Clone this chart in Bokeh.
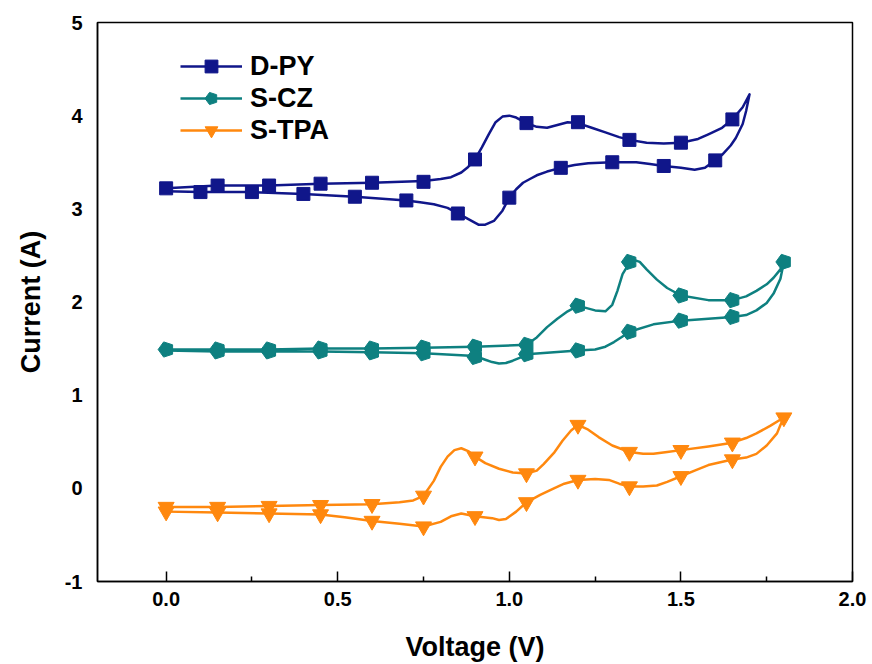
import math
from bokeh.plotting import figure
from bokeh.models import Range1d, FixedTicker, NumeralTickFormatter, Legend, LegendItem
from bokeh.embed import file_html
from bokeh.resources import INLINE

# ---------------- data ----------------
series_names = ["D-PY", "S-CZ", "S-TPA"]

# D-PY: traced curve (forward scan, then reverse scan)
dpy_curve_v = [0.00, 0.15, 0.30, 0.45, 0.60, 0.75, 0.80, 0.83, 0.86, 0.88, 0.90, 0.92, 0.94, 0.96, 0.98,
               1.00, 1.02, 1.05, 1.08, 1.11, 1.14, 1.17, 1.20, 1.24, 1.28, 1.32, 1.35, 1.40, 1.45,
               1.50, 1.55, 1.58, 1.62, 1.65, 1.68, 1.70,
               1.69, 1.68, 1.66, 1.645, 1.62, 1.60, 1.57, 1.54, 1.50, 1.45, 1.41, 1.37, 1.30, 1.23,
               1.19, 1.15, 1.11, 1.08, 1.06, 1.04, 1.02, 1.00, 0.98, 0.955, 0.93, 0.91, 0.89, 0.87,
               0.85, 0.82, 0.78, 0.74, 0.70, 0.55, 0.40, 0.25, 0.10, 0.00]
dpy_curve_i = [3.22, 3.25, 3.25, 3.27, 3.28, 3.30, 3.32, 3.34, 3.39, 3.45, 3.53, 3.66, 3.80, 3.93, 3.99,
               4.00, 3.98, 3.92, 3.88, 3.87, 3.90, 3.93, 3.92, 3.87, 3.82, 3.77, 3.74, 3.71, 3.70,
               3.71, 3.75, 3.80, 3.87, 3.96, 4.09, 4.23,
               4.05, 3.91, 3.76, 3.68, 3.58, 3.52, 3.44, 3.42, 3.44, 3.46, 3.48, 3.50, 3.50, 3.49,
               3.47, 3.44, 3.40, 3.36, 3.32, 3.28, 3.21, 3.12, 2.98, 2.87, 2.83, 2.83, 2.87, 2.91,
               2.95, 3.01, 3.05, 3.07, 3.09, 3.13, 3.16, 3.18, 3.18, 3.19]
dpy_mark_v = [0.00, 0.15, 0.30, 0.45, 0.60, 0.75, 0.90, 1.05, 1.20, 1.35, 1.50, 1.65,
              1.60, 1.45, 1.30, 1.15, 1.00, 0.85, 0.70, 0.55, 0.40, 0.25, 0.10]
dpy_mark_i = [3.22, 3.25, 3.25, 3.27, 3.28, 3.29, 3.53, 3.92, 3.93, 3.74, 3.71, 3.96,
              3.52, 3.46, 3.50, 3.44, 3.12, 2.95, 3.09, 3.13, 3.16, 3.18, 3.18]

# S-CZ
scz_curve_v = [0.00, 0.15, 0.30, 0.45, 0.60, 0.75, 0.90, 1.05, 1.08, 1.11, 1.14, 1.17, 1.20, 1.22,
               1.25, 1.28, 1.30, 1.315, 1.33, 1.35, 1.365, 1.38, 1.40, 1.43, 1.46, 1.50, 1.58, 1.65,
               1.69, 1.72, 1.75, 1.77, 1.79, 1.80,
               1.79, 1.77, 1.75, 1.72, 1.69, 1.65, 1.58, 1.50, 1.42, 1.35, 1.33, 1.305, 1.28, 1.25,
               1.20, 1.13, 1.05, 1.03, 1.01, 0.99, 0.97, 0.95, 0.93, 0.90, 0.75, 0.60, 0.45, 0.30,
               0.15, 0.00]
scz_curve_i = [1.49, 1.49, 1.49, 1.50, 1.50, 1.51, 1.52, 1.54, 1.62, 1.73, 1.82, 1.90, 1.96, 1.94,
               1.91, 1.90, 1.97, 2.12, 2.30, 2.42, 2.45, 2.43, 2.35, 2.24, 2.15, 2.07, 2.02, 2.02,
               2.06, 2.12, 2.19, 2.26, 2.35, 2.43,
               2.25, 2.09, 1.99, 1.91, 1.86, 1.84, 1.82, 1.80, 1.76, 1.68, 1.63, 1.57, 1.52, 1.49,
               1.48, 1.46, 1.44, 1.40, 1.37, 1.345, 1.34, 1.355, 1.38, 1.42, 1.45, 1.46, 1.47, 1.47,
               1.47, 1.48]
scz_mark_v = [0.00, 0.15, 0.30, 0.45, 0.60, 0.75, 0.90, 1.05, 1.20, 1.35, 1.50, 1.65, 1.80,
              1.65, 1.50, 1.35, 1.20, 1.05, 0.90, 0.75, 0.60, 0.45, 0.30, 0.15]
scz_mark_i = [1.49, 1.49, 1.49, 1.50, 1.50, 1.51, 1.52, 1.54, 1.96, 2.43, 2.07, 2.02, 2.43,
              1.84, 1.80, 1.68, 1.48, 1.44, 1.41, 1.45, 1.46, 1.47, 1.47, 1.47]

# S-TPA
stpa_curve_v = [0.00, 0.15, 0.30, 0.45, 0.60, 0.68, 0.72, 0.75, 0.78, 0.80, 0.82, 0.84, 0.86, 0.88,
                0.90, 0.93, 0.97, 1.01, 1.05, 1.08, 1.10, 1.13, 1.155, 1.18, 1.20, 1.23, 1.26, 1.30,
                1.35, 1.39, 1.42, 1.46, 1.50, 1.58, 1.65, 1.69, 1.72, 1.76, 1.80,
                1.79, 1.78, 1.75, 1.72, 1.69, 1.65, 1.58, 1.54, 1.50, 1.46, 1.43, 1.39, 1.35, 1.32,
                1.29, 1.25, 1.20, 1.16, 1.13, 1.09, 1.05, 1.02, 0.99, 0.97, 0.95, 0.90, 0.86, 0.83,
                0.80, 0.75, 0.68, 0.60, 0.52, 0.45, 0.30, 0.15, 0.00]
stpa_curve_i = [-0.20, -0.20, -0.19, -0.18, -0.17, -0.15, -0.13, -0.08, 0.08, 0.23, 0.34, 0.41, 0.43, 0.40,
                0.34, 0.27, 0.21, 0.17, 0.16, 0.19, 0.26, 0.38, 0.51, 0.62, 0.68, 0.63, 0.55, 0.46,
                0.39, 0.37, 0.37, 0.39, 0.41, 0.45, 0.49, 0.54, 0.59, 0.67, 0.76,
                0.68, 0.59, 0.46, 0.37, 0.33, 0.31, 0.25, 0.19, 0.13, 0.07, 0.03, 0.02, 0.02, 0.05,
                0.09, 0.10, 0.09, 0.05, 0.00, -0.07, -0.15, -0.25, -0.33, -0.34, -0.32, -0.30, -0.27, -0.30,
                -0.36, -0.41, -0.38, -0.35, -0.31, -0.28, -0.27, -0.26, -0.25]
stpa_mark_v = [0.00, 0.15, 0.30, 0.45, 0.60, 0.75, 0.90, 1.05, 1.20, 1.35, 1.50, 1.65, 1.80,
               1.65, 1.50, 1.35, 1.20, 1.05, 0.90, 0.75, 0.60, 0.45, 0.30, 0.15, 0.00]
stpa_mark_i = [-0.20, -0.20, -0.19, -0.18, -0.17, -0.08, 0.34, 0.16, 0.68, 0.39, 0.41, 0.49, 0.76,
               0.31, 0.13, 0.02, 0.09, -0.15, -0.30, -0.41, -0.35, -0.28, -0.27, -0.26, -0.25]

x_ticks = [0.0, 0.5, 1.0, 1.5, 2.0]
x_minor = [0.25, 0.75, 1.25, 1.75]
y_ticks = [-1, 0, 1, 2, 3, 4, 5]

# ---------------- styling ----------------
NAVY = "#10168A"
TEAL = "#0E8080"
ORANGE = "#FF880E"
FONT = "Liberation Sans"

p = figure(width=872, height=664, output_backend="svg", toolbar_location=None,
           x_range=Range1d(-0.2, 2.0), y_range=Range1d(-1, 5),
           min_border_left=97, min_border_right=20, min_border_top=22, min_border_bottom=82)
p.xgrid.visible = False
p.ygrid.visible = False
p.outline_line_color = "black"
p.outline_line_width = 1.5
p.background_fill_color = "white"
p.border_fill_color = "white"

lw = 2.5
r1l = p.line(dpy_curve_v, dpy_curve_i, line_color=NAVY, line_width=lw, line_join="round")
r1m = p.scatter(dpy_mark_v, dpy_mark_i, marker="square", size=13, fill_color=NAVY, line_color=NAVY)

r2l = p.line(scz_curve_v, scz_curve_i, line_color=TEAL, line_width=lw, line_join="round")
try:
    r2m = p.ngon(scz_mark_v, scz_mark_i, radius=8, radius_units="screen", n=5, angle=math.pi / 2,
                 fill_color=TEAL, line_color=TEAL)
except Exception:
    r2m = p.scatter(scz_mark_v, scz_mark_i, marker="hex", size=15, fill_color=TEAL, line_color=TEAL)

r3l = p.line(stpa_curve_v, stpa_curve_i, line_color=ORANGE, line_width=lw, line_join="round")
r3m = p.scatter(stpa_mark_v, stpa_mark_i, marker="inverted_triangle", size=16, fill_color=ORANGE, line_color=ORANGE)

legend = Legend(items=[LegendItem(label=series_names[0], renderers=[r1l, r1m]),
                       LegendItem(label=series_names[1], renderers=[r2l, r2m]),
                       LegendItem(label=series_names[2], renderers=[r3l, r3m])],
                location=(83, 435), orientation="vertical")
legend.padding = 0
legend.margin = 0
legend.spacing = 0
legend.glyph_width = 62
legend.glyph_height = 32
legend.label_height = 32
legend.label_standoff = 8
legend.label_text_font = FONT
legend.label_text_font_style = "bold"
legend.label_text_font_size = "27px"
legend.label_text_color = "black"
legend.border_line_color = None
legend.background_fill_alpha = 0
p.add_layout(legend)

# axes
xa = p.xaxis[0]
xa.ticker = FixedTicker(ticks=x_ticks, minor_ticks=x_minor)
xa.formatter = NumeralTickFormatter(format="0.0")
xa.axis_label = "Voltage (V)"
xa.major_tick_in = 10
xa.major_tick_out = 0
xa.minor_tick_in = 5
xa.minor_tick_out = 0
xa.major_tick_line_width = 1.5
xa.minor_tick_line_width = 1.5
xa.axis_line_width = 1.5
xa.major_label_standoff = 10
xa.axis_label_standoff = 23

ya = p.yaxis[0]
ya.ticker = FixedTicker(ticks=y_ticks)
ya.formatter = NumeralTickFormatter(format="0")
ya.axis_label = "Current (A)"
ya.major_tick_in = 0
ya.major_tick_out = 0
ya.minor_tick_in = 0
ya.minor_tick_out = 0
ya.axis_line_width = 1.5
ya.major_label_standoff = 15
ya.axis_label_standoff = 16

for ax in (xa, ya):
    ax.major_label_text_font = FONT
    ax.major_label_text_font_style = "bold"
    ax.major_label_text_font_size = "20px"
    ax.major_label_text_color = "black"
    ax.axis_label_text_font = FONT
    ax.axis_label_text_font_style = "bold"
    ax.axis_label_text_font_size = "27px"
    ax.axis_label_text_color = "black"
    ax.axis_line_color = "black"
    ax.major_tick_line_color = "black"
    ax.minor_tick_line_color = "black"

open("out.html", "w").write(file_html(p, INLINE))
